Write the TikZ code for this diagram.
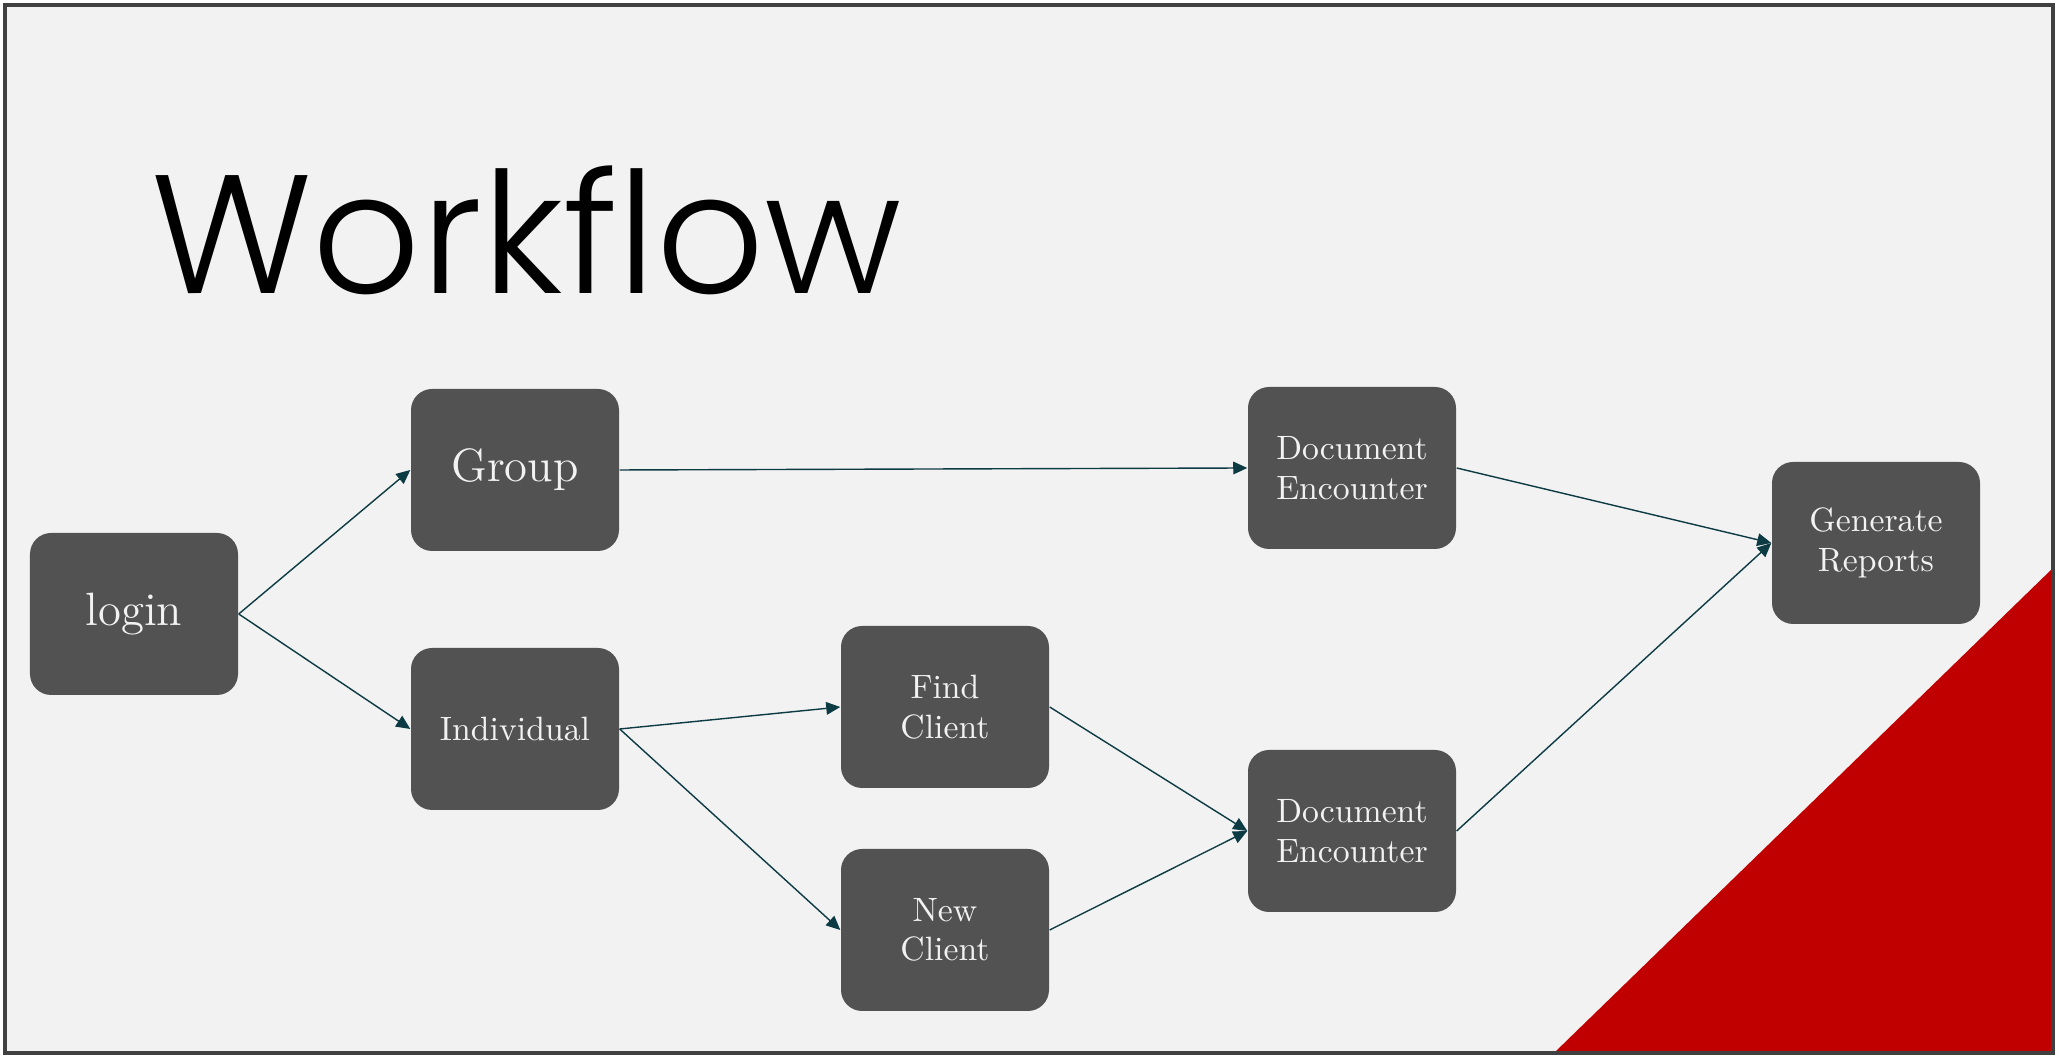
\documentclass[tikz,border=0pt]{standalone}
\usepackage{fontspec}
\usetikzlibrary{arrows.meta}
\newfontfamily\titlefont{Poppins Light}
\definecolor{slideGray}{HTML}{F2F2F2}
\definecolor{frameGray}{HTML}{404040}
\definecolor{boxGray}{HTML}{525252}
\definecolor{flowTeal}{HTML}{0D3B44}
\definecolor{cornerRed}{HTML}{C00000}
\begin{document}
\begin{tikzpicture}[
  stepbox/.style={fill=boxGray,rounded corners=6pt,minimum width=2.08cm,minimum height=1.62cm,
    text=slideGray,align=center,font=\fontsize{9.6}{11.2}\selectfont},
  bigbox/.style={stepbox,font=\fontsize{13.3}{15}\selectfont},
  flow/.style={draw=flowTeal,line width=0.4pt,-{Triangle[length=4pt,width=3.6pt]}}
]
% Slide background
\fill[white] (0,0) rectangle (20.6,10.57);
\fill[slideGray] (0.05,0.04) rectangle (20.53,10.52);

% Red corner
\fill[cornerRed] (15.54,0.04) -- (20.53,0.04) -- (20.53,4.89) -- cycle;

% Title
\node[anchor=base west,inner sep=0pt,font=\titlefont\fontsize{48}{48}\selectfont] (title) at (1.51,7.63) {Workflow};

% Boxes
\node[bigbox] (login) at (1.34,4.43) {login};
\node[bigbox] (group) at (5.15,5.87) {Group};
\node[stepbox] (indiv) at (5.15,3.28) {Individual};
\node[stepbox] (find) at (9.45,3.50) {Find\\Client};
\node[stepbox] (new) at (9.45,1.27) {New\\Client};
\node[stepbox] (docgroup) at (13.52,5.89) {Document\\Encounter};
\node[stepbox] (docindiv) at (13.52,2.26) {Document\\Encounter};
\node[stepbox] (reports) at (18.76,5.14) {Generate\\Reports};

% Connectors
\draw[flow] (login.east) -- (group.west);
\draw[flow] (login.east) -- (indiv.west);
\draw[flow] (group.east) -- (docgroup.west);
\draw[flow] (indiv.east) -- (find.west);
\draw[flow] (indiv.east) -- (new.west);
\draw[flow] (find.east) -- (docindiv.west);
\draw[flow] (new.east) -- (docindiv.west);
\draw[flow] (docgroup.east) -- (reports.west);
\draw[flow] (docindiv.east) -- (reports.west);

% Frame
\draw[frameGray,line width=1pt] (0.05,0.04) rectangle (20.53,10.52);
\end{tikzpicture}
\end{document}
